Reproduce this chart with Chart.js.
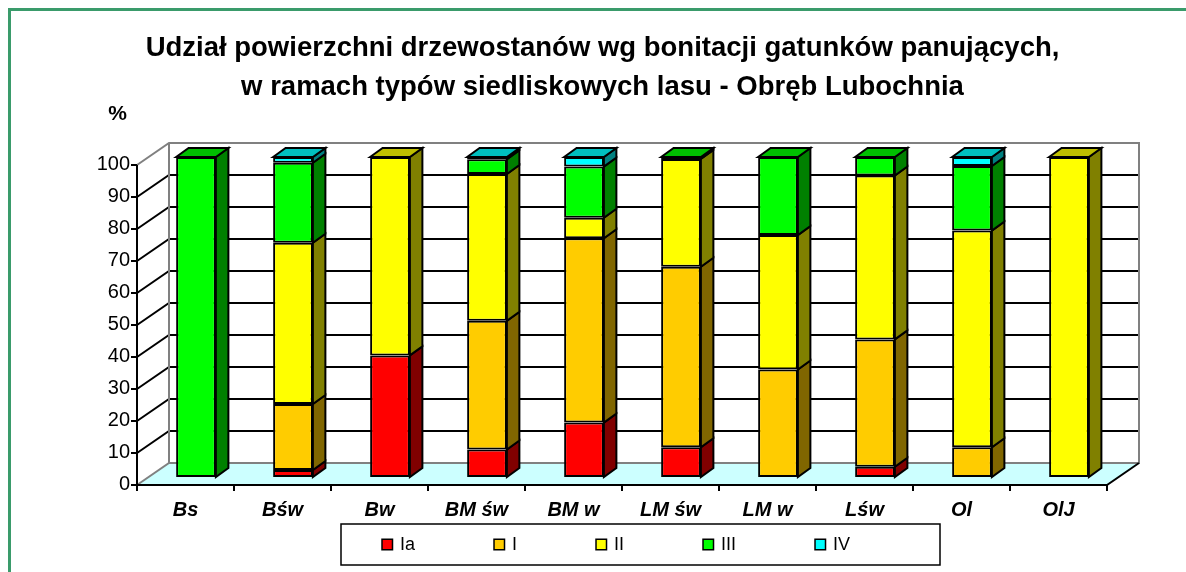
<!DOCTYPE html>
<html><head><meta charset="utf-8">
<script src="https://cdn.jsdelivr.net/npm/chart.js@4"></script>
<style>
html,body{margin:0;padding:0;background:#fff;}
#wrap{position:relative;width:1186px;height:572px;overflow:hidden;background:#fff;}
#frame{position:absolute;left:8px;top:8px;width:1300px;height:700px;border-top:3px solid #3A9B6B;border-left:3px solid #3A9B6B;}
canvas{position:absolute;left:0;top:0;}
</style></head><body>
<div id="wrap"><div id="frame"></div><canvas id="c" width="1186" height="572"></canvas></div>
<script>
const categories = ['Bs', 'Bśw', 'Bw', 'BM św', 'BM w', 'LM św', 'LM w', 'Lśw', 'Ol', 'OlJ'];
const seriesNames = ['Ia', 'I', 'II', 'III', 'IV'];
const valuesIa  = [0,   2.2, 38,  8.6, 17,   9.3, 0,    3.2,  0,    0];
const valuesI   = [0,  20.6,  0, 40.2, 57.6, 56.4, 33.6, 39.8, 9.3,  0];
const valuesII  = [0,  50.4, 62, 45.9, 6.4, 33.7, 42,   51.2, 67.7, 100];
const valuesIII = [100, 25,   0,  4.6, 16,   0.6, 24.4, 5.8,  20.2, 0];
const valuesIV  = [0,   1.8,  0,  0.7, 3,    0,   0,    0,    2.8,  0];
const seriesColors = ['#FF0000', '#FFCC00', '#FFFF00', '#00FF00', '#00FFFF'];
const titleLines = ['Udział powierzchni drzewostanów wg bonitacji gatunków panujących,', 'w ramach typów siedliskowych lasu - Obręb Lubochnia'];
const yUnit = '%';

const FONT = "'Liberation Sans', Arial, sans-serif";
const allValues = [valuesIa, valuesI, valuesII, valuesIII, valuesIV];

function shade(hex, f) {
  const n = parseInt(hex.slice(1), 16);
  const r = Math.round(((n >> 16) & 255) * f), g = Math.round(((n >> 8) & 255) * f), b = Math.round((n & 255) * f);
  return `rgb(${r},${g},${b})`;
}

// geometry of the pseudo-3D box (pixels)
const G = { barShiftX: 10.5, barShiftY: -7.5, depthX: 32, depthY: -22, barDX: 12.5, barDY: -9 };

const threeD = {
  id: 'threeD',
  beforeDatasetsDraw(chart) {
    const ctx = chart.ctx, a = chart.chartArea, ys = chart.scales.y;
    const fl = Math.round(a.left - G.barShiftX), fr = Math.round(a.right - G.barShiftX);
    const yf = v => Math.round(ys.getPixelForValue(v) - G.barShiftY);
    const dx = G.depthX, dy = G.depthY;
    ctx.save();
    // walls
    ctx.fillStyle = '#FFFFFF';
    ctx.fillRect(fl + dx, yf(100) + dy, fr - fl, yf(0) - yf(100));
    ctx.beginPath();
    ctx.moveTo(fl, yf(100)); ctx.lineTo(fl + dx, yf(100) + dy); ctx.lineTo(fl + dx, yf(0) + dy); ctx.lineTo(fl, yf(0)); ctx.closePath(); ctx.fill();
    // floor
    ctx.fillStyle = '#CCFFFF';
    ctx.beginPath();
    ctx.moveTo(fl, yf(0)); ctx.lineTo(fr, yf(0)); ctx.lineTo(fr + dx, yf(0) + dy); ctx.lineTo(fl + dx, yf(0) + dy); ctx.closePath(); ctx.fill();
    // gridlines
    ctx.lineWidth = 2; ctx.strokeStyle = '#000';
    for (let v = 10; v < 100; v += 10) {
      ctx.beginPath();
      ctx.moveTo(fl, yf(v)); ctx.lineTo(fl + dx, yf(v) + dy); ctx.lineTo(fr + dx, yf(v) + dy);
      ctx.stroke();
    }
    // gray edges
    ctx.strokeStyle = '#808080';
    ctx.beginPath();
    ctx.moveTo(fl, yf(100)); ctx.lineTo(fl + dx, yf(100) + dy); ctx.lineTo(fr + dx, yf(100) + dy); ctx.lineTo(fr + dx, yf(0) + dy); ctx.lineTo(fl + dx, yf(0) + dy); ctx.lineTo(fl, yf(0));
    ctx.moveTo(fl + dx, yf(100) + dy); ctx.lineTo(fl + dx, yf(0) + dy);
    ctx.stroke();
    // floor front & right edges, front axis
    ctx.strokeStyle = '#000';
    ctx.beginPath();
    ctx.moveTo(fl, yf(0)); ctx.lineTo(fr, yf(0)); ctx.lineTo(fr + dx, yf(0) + dy);
    ctx.moveTo(fl, yf(100)); ctx.lineTo(fl, yf(0));
    for (let v = 0; v <= 100; v += 10) { ctx.moveTo(fl - 6, yf(v)); ctx.lineTo(fl, yf(v)); }
    const cw = (fr - fl) / categories.length;
    for (let k = 0; k <= categories.length; k++) { const x = Math.round(fl + k * cw); ctx.moveTo(x, yf(0)); ctx.lineTo(x, yf(0) + 6); }
    ctx.stroke();
    ctx.restore();
  },
  afterDatasetsDraw(chart) {
    const ctx = chart.ctx;
    ctx.save();
    ctx.lineWidth = 2; ctx.strokeStyle = '#000'; ctx.lineJoin = 'miter';
    const n = categories.length;
    const topIdx = [];
    for (let i = 0; i < n; i++) { let t = -1; allValues.forEach((s, d) => { if (s[i] > 0) t = d; }); topIdx.push(t); }
    chart.data.datasets.forEach((ds, d) => {
      const meta = chart.getDatasetMeta(d);
      meta.data.forEach((el, i) => {
        if (!(ds.data[i] > 0)) return;
        const p = el.getProps(['x', 'y', 'base', 'width'], true);
        const L = p.x - p.width / 2, R = p.x + p.width / 2, T = Math.min(p.y, p.base), B = Math.max(p.y, p.base);
        ctx.fillStyle = shade(seriesColors[d], 0.5);
        ctx.beginPath();
        ctx.moveTo(R, T); ctx.lineTo(R + G.barDX, T + G.barDY); ctx.lineTo(R + G.barDX, B + G.barDY); ctx.lineTo(R, B); ctx.closePath();
        ctx.fill(); ctx.stroke();
        if (topIdx[i] === d) {
          ctx.fillStyle = shade(seriesColors[d], 0.75);
          ctx.beginPath();
          ctx.moveTo(L, T); ctx.lineTo(L + G.barDX, T + G.barDY); ctx.lineTo(R + G.barDX, T + G.barDY); ctx.lineTo(R, T); ctx.closePath();
          ctx.fill(); ctx.stroke();
        }
      });
    });
    ctx.restore();
  },
  afterDraw(chart) {
    const ctx = chart.ctx;
    ctx.save();
    // unit label
    ctx.fillStyle = '#000';
    ctx.font = `bold 21px ${FONT}`;
    ctx.textAlign = 'center'; ctx.textBaseline = 'middle';
    ctx.fillText(yUnit, 117.5, 114);
    // legend
    ctx.lineWidth = 1.5; ctx.strokeStyle = '#000';
    ctx.strokeRect(341, 524, 599, 41);
    ctx.font = `18px ${FONT}`; ctx.textAlign = 'left';
    let x = 382; const y = 544.5, box = 10.5;
    chart.data.datasets.forEach((ds, d) => {
      ctx.fillStyle = seriesColors[d];
      ctx.fillRect(x, y - box / 2, box, box);
      ctx.strokeRect(x, y - box / 2, box, box);
      ctx.fillStyle = '#000';
      ctx.fillText(ds.label, x + box + 7.5, y + 1);
      x += box + 7.5 + ctx.measureText(ds.label).width + 79;
    });
    ctx.restore();
  }
};

new Chart(document.getElementById('c'), {
  type: 'bar',
  data: {
    labels: categories,
    datasets: seriesNames.map((name, d) => ({
      label: name,
      data: allValues[d],
      backgroundColor: seriesColors[d],
      borderColor: '#000',
      borderWidth: 2,
      borderSkipped: false,
      categoryPercentage: 1,
      barPercentage: 0.41
    }))
  },
  options: {
    responsive: false,
    animation: false,
    devicePixelRatio: 1,
    layout: { padding: { left: 87.5, right: 68.5, top: 0, bottom: 0 } },
    plugins: {
      legend: { display: false },
      tooltip: { enabled: false },
      title: {
        display: true, text: titleLines, color: '#000',
        font: { family: FONT, size: 27.5, weight: 'bold', lineHeight: 1.45 },
        padding: { top: 28, bottom: 49.25 }
      }
    },
    scales: {
      x: {
        stacked: true,
        grid: { display: false, drawTicks: false },
        border: { display: false },
        ticks: { color: '#000', font: { family: FONT, size: 20, weight: 'bold', style: 'italic' }, padding: 21, labelOffset: -10.5, autoSkip: false, maxRotation: 0 },
        afterFit(s) { s.height = 95; }
      },
      y: {
        stacked: true, min: 0, max: 100,
        grid: { display: false, drawTicks: false },
        border: { display: false },
        ticks: { stepSize: 10, color: '#000', font: { family: FONT, size: 20 }, padding: 17.5, labelOffset: 7.5 },
        afterFit(s) { s.width = 60; }
      }
    }
  },
  plugins: [threeD]
});
</script>
</body></html>
